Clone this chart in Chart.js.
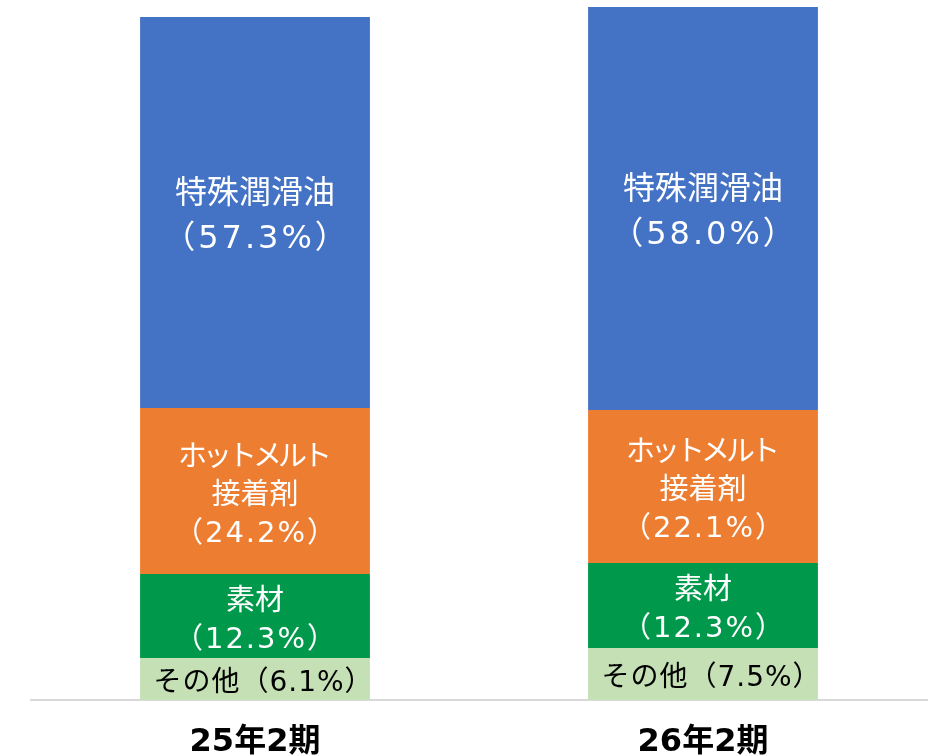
<!DOCTYPE html>
<html lang="ja">
<head>
<meta charset="utf-8">
<script src="https://cdn.jsdelivr.net/npm/chart.js@4.4.1/dist/chart.umd.min.js"></script>
<style>
  html, body { margin: 0; padding: 0; background: #fff; }
  #wrap { width: 940px; height: 755px; }
</style>
</head>
<body>
<div id="wrap"><canvas id="chart" width="940" height="755"></canvas></div>
<script>
// categories (fiscal periods)
const periods = ["25年2期", "26年2期"];

// segment sizes (same unit for both bars)
const specialOil = [39.1, 40.3];
const hotMelt = [16.6, 15.3];
const materials = [8.4, 8.5];
const others = [4.2, 5.2];

// share labels printed inside the bars
const specialOilPct = ["57.3%", "58.0%"];
const hotMeltPct = ["24.2%", "22.1%"];
const materialsPct = ["12.3%", "12.3%"];
const othersPct = ["6.1%", "7.5%"];

// latin digits from DejaVu (wide like the original), kana/kanji from Noto CJK
const FONT = "'DejaVu Sans', 'Noto Sans CJK JP', sans-serif";

// each line: [text, letter spacing px, x nudge px]
// (the nudge only offsets the blank side of the fullwidth brackets)
const segments = [
  { name: "その他", data: others, pct: othersPct, color: "#C5E0B4", text: "#000",
    size: 28, gap: 38, lines: (p) => [["その他（" + p + "）", 1, 8]] },
  { name: "素材", data: materials, pct: materialsPct, color: "#00994C", text: "#fff",
    size: 29, gap: 38, lines: (p) => [["素材", 0, 0], ["（" + p + "）", 2, 0]] },
  { name: "ホットメルト接着剤", data: hotMelt, pct: hotMeltPct, color: "#ED7D31", text: "#fff",
    size: 29, gap: 38, lines: (p) => [["ホットメルト", -4, 0], ["接着剤", 0, 0], ["（" + p + "）", 2, 0]] },
  { name: "特殊潤滑油", data: specialOil, pct: specialOilPct, color: "#4472C4", text: "#fff",
    size: 32, gap: 45, lines: (p) => [["特殊潤滑油", 0, 0], ["（" + p + "）", 3, 0]] },
];

/**
 * write the multi line label in the middle of each stacked segment
 */
const segmentLabels = {
  id: "segmentLabels",
  afterDatasetsDraw(chart) {
    const ctx = chart.ctx;
    ctx.save();
    ctx.textAlign = "center";
    ctx.textBaseline = "middle";
    chart.data.datasets.forEach((ds, i) => {
      const seg = segments[i];
      chart.getDatasetMeta(i).data.forEach((bar, j) => {
        const { x, y, base } = bar.getProps(["x", "y", "base"], true);
        const lines = seg.lines(seg.pct[j]);
        const mid = (y + base) / 2 + 5;
        ctx.font = "400 " + seg.size + "px " + FONT;
        ctx.fillStyle = seg.text;
        lines.forEach(([t, sp, dx], k) => {
          ctx.letterSpacing = sp + "px";
          ctx.fillText(t, x + sp / 2 + dx, mid + (k - (lines.length - 1) / 2) * seg.gap);
        });
      });
    });
    ctx.restore();
  },
};

new Chart(document.getElementById("chart").getContext("2d"), {
  type: "bar",
  data: {
    labels: periods,
    datasets: segments.map((s) => ({
      label: s.name,
      data: s.data,
      backgroundColor: s.color,
      borderWidth: 0,
      categoryPercentage: 1,
      barPercentage: 0.513,
    })),
  },
  options: {
    responsive: false,
    animation: false,
    layout: { padding: { left: 31, right: 13, top: 0, bottom: 0 } },
    plugins: {
      legend: { display: false },
      tooltip: { enabled: false },
    },
    scales: {
      x: {
        stacked: true,
        grid: { display: false, drawTicks: false },
        border: { display: true, color: "#D9D9D9", width: 2 },
        ticks: {
          color: "#000",
          padding: 23,
          font: { family: FONT, size: 32, weight: "bold" },
        },
        afterFit: (scale) => { scale.height = 55; },
      },
      y: {
        stacked: true,
        display: false,
        min: 0,
        max: 70,
      },
    },
  },
  plugins: [segmentLabels],
});
</script>
</body>
</html>
